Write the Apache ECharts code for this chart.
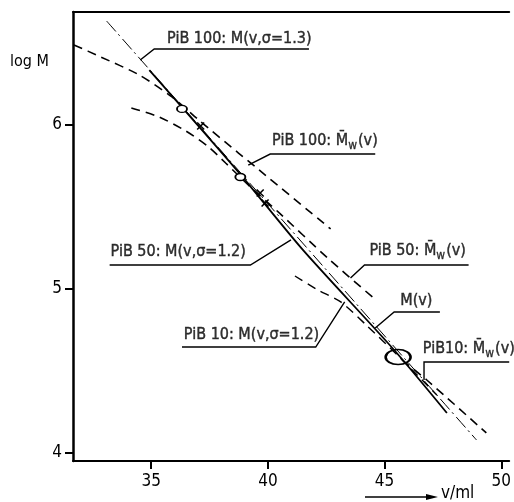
<!DOCTYPE html>
<html>
<head>
<meta charset="utf-8">
<title>log M vs v</title>
<script src="https://cdn.jsdelivr.net/npm/echarts@6/dist/echarts.min.js"></script>
<style>
  html, body { margin: 0; padding: 0; background: #fff; }
  #chart { width: 514px; height: 502px; }
</style>
</head>
<body>
<div id="chart"></div>
<script>
// tick values
const vTicks = [35, 40, 45, 50];
const logMTicks = [4, 5, 6];

// M(v) calibration line (solid)
const solidV = [34.92, 38.74, 41.50, 45.41, 47.67];
const solidLogM = [6.335, 5.713, 5.238, 4.628, 4.244];

// PiB 100: M(v, sigma=1.3) (dash-dot)
const pib100SigV = [33.09, 48.94];
const pib100SigLogM = [6.634, 4.079];

// PiB 100: Mw(v) (dashed)
const pib100MwV = [31.69, 32.79, 34.49, 35.89, 37.04, 38.74, 39.46, 42.69];
const pib100MwLogM = [6.488, 6.418, 6.305, 6.171, 6.030, 5.829, 5.745, 5.366];

// PiB 50: Mw(v) (dashed)
const pib50MwV = [34.15, 35.34, 36.49, 37.46, 38.19, 39.16, 40.44, 42.56, 44.48];
const pib50MwLogM = [6.104, 6.049, 5.963, 5.866, 5.768, 5.634, 5.470, 5.189, 4.951];

// PiB 10: M(v, sigma=1.2) (dashed)
const pib10SigV = [41.16, 42.14, 43.12, 44.26, 45.54, 47.24];
const pib10SigLogM = [5.079, 4.994, 4.921, 4.774, 4.598, 4.354];

// PiB 10: Mw(v) (dashed)
const pib10MwV = [45.75, 46.81, 49.36];
const pib10MwLogM = [4.567, 4.445, 4.122];

// measured points
const circleV = [36.32, 38.82];
const circleLogM = [6.098, 5.683];
const crossV = [37.12, 39.67, 39.88];
const crossLogM = [5.994, 5.585, 5.524];
const ellipseV = [45.58];
const ellipseLogM = [4.585];

// annotation labels (left edge of text, vertical centre)
const labelTexts = [
  '{t|PiB 100: M(v,σ=1.3)}',
  '{t|PiB 100: M\u0304}{s|w}{t|(v)}',
  '{t|PiB 50: M(v,σ=1.2)}',
  '{t|PiB 50: M\u0304}{s|w}{t|(v)}',
  '{t|M(v)}',
  '{t|PiB 10: M(v,σ=1.2)}',
  '{t|PiB10: M\u0304}{s|w}{t|(v)}'
];
const labelV = [35.68, 40.18, 33.26, 44.35, 45.67, 36.40, 46.64];
const labelLogM = [6.524, 5.902, 5.226, 5.232, 4.927, 4.720, 4.634];

// leader lines + underlines for each label
const leaderPaths = [
  [[34.53, 6.396], [35.13, 6.463], [41.76, 6.463]],
  [[39.16, 5.756], [40.10, 5.823], [44.60, 5.823]],
  [[33.22, 5.146], [39.25, 5.146], [40.99, 5.299]],
  [[43.54, 5.067], [44.14, 5.146], [48.60, 5.146]],
  [[44.60, 4.762], [45.41, 4.860], [47.37, 4.860]],
  [[36.32, 4.646], [42.05, 4.646], [43.29, 4.921]],
  [[46.69, 4.445], [46.69, 4.555], [50.34, 4.555]]
];

const zip = (a, b) => a.map((v, i) => [v, b[i]]);
const FONT = '"DejaVu Sans Condensed", "Liberation Sans Narrow", "DejaVu Sans", sans-serif';

const chart = echarts.init(document.getElementById('chart'), null, { renderer: 'canvas' });

const curve = (name, xs, ys, type, width) => ({
  name,
  type: 'line',
  data: zip(xs, ys),
  showSymbol: false,
  symbol: 'none',
  smooth: 0.25,
  silent: true,
  lineStyle: { color: '#000', width, type, opacity: 1 }
});

const option = {
  animation: false,
  backgroundColor: '#fff',
  textStyle: { fontFamily: FONT },
  grid: { left: 73, right: 0, top: 12, bottom: 41 },
  xAxis: [
    {
      type: 'value',
      min: 31.65,
      max: 50.34,
      axisLine: { onZero: false, lineStyle: { color: '#000', width: 2 } },
      axisTick: { customValues: vTicks, length: 8, inside: false, lineStyle: { color: '#000', width: 2 } },
      axisLabel: { customValues: vTicks, margin: 12, color: '#000', fontSize: 17, fontFamily: FONT },
      splitLine: { show: false }
    },
    {
      type: 'value',
      position: 'top',
      min: 31.65,
      max: 50.34,
      axisLine: { show: true, lineStyle: { color: '#000', width: 2 } },
      axisTick: { show: false },
      axisLabel: { show: false },
      splitLine: { show: false }
    }
  ],
  yAxis: {
    type: 'value',
    min: 3.951,
    max: 6.689,
    axisLine: { onZero: false, lineStyle: { color: '#000', width: 2.5 } },
    axisTick: { customValues: logMTicks, length: 8, lineStyle: { color: '#000', width: 2 } },
    axisLabel: { customValues: logMTicks, margin: 11, color: '#000', fontSize: 17, fontFamily: FONT },
    splitLine: { show: false }
  },
  graphic: [
    { type: 'text', left: 10, top: 54, style: { text: 'log M', font: '16px ' + FONT, fill: '#000' } },
    { type: 'line', shape: { x1: 365, y1: 497, x2: 430, y2: 497 }, style: { stroke: '#000', lineWidth: 1.3 } },
    { type: 'polygon', shape: { points: [[438, 497], [426, 494], [426, 500]] }, style: { fill: '#000' } },
    { type: 'text', left: 441, top: 485, style: { text: 'v/ml', font: '17px ' + FONT, fill: '#000' } }
  ],
  series: [
    curve('M(v)', solidV, solidLogM, 'solid', 1.8),
    curve('PiB 100: M(v,σ=1.3)', pib100SigV, pib100SigLogM, [14, 4, 2, 4], 1),
    curve('PiB 100: Mw(v)', pib100MwV, pib100MwLogM, [9, 6], 1.6),
    curve('PiB 50: Mw(v)', pib50MwV, pib50MwLogM, [9, 6], 1.6),
    curve('PiB 10: M(v,σ=1.2)', pib10SigV, pib10SigLogM, [9, 6], 1.4),
    curve('PiB 10: Mw(v)', pib10MwV, pib10MwLogM, [9, 6], 1.6),
    {
      type: 'scatter',
      data: zip(circleV, circleLogM),
      symbol: 'circle',
      symbolSize: [10, 7],
      itemStyle: { color: '#fff', borderColor: '#000', borderWidth: 1.6, opacity: 1 },
      z: 5
    },
    {
      type: 'scatter',
      data: zip(crossV, crossLogM),
      symbol: 'path://M0,0L10,10M10,0L0,10',
      symbolSize: 7,
      itemStyle: { color: 'none', borderColor: '#000', borderWidth: 1.6, opacity: 1 },
      z: 5
    },
    {
      type: 'scatter',
      data: zip(ellipseV, ellipseLogM),
      symbol: 'circle',
      symbolSize: [25, 15],
      itemStyle: { color: 'rgba(0,0,0,0)', borderColor: '#000', borderWidth: 2, opacity: 1 },
      z: 5
    },
    {
      type: 'lines',
      coordinateSystem: 'cartesian2d',
      polyline: true,
      silent: true,
      lineStyle: { color: '#000', width: 1.4, opacity: 1 },
      data: leaderPaths.map(p => ({ coords: p }))
    },
    {
      type: 'scatter',
      symbolSize: 0,
      silent: true,
      data: labelTexts.map((t, i) => ({ value: [labelV[i], labelLogM[i]], name: t })),
      label: {
        show: true,
        position: 'right',
        distance: 0,
        color: '#000',
        formatter: p => p.name,
        rich: {
          t: { fontSize: 16, color: '#000', fontFamily: FONT, textBorderColor: '#000', textBorderWidth: 0.4 },
          s: { fontSize: 12, color: '#000', fontFamily: FONT, padding: [10, 1, 0, 0], textBorderColor: '#000', textBorderWidth: 0.3 }
        }
      }
    }
  ]
};

chart.setOption(option);
</script>
</body>
</html>
